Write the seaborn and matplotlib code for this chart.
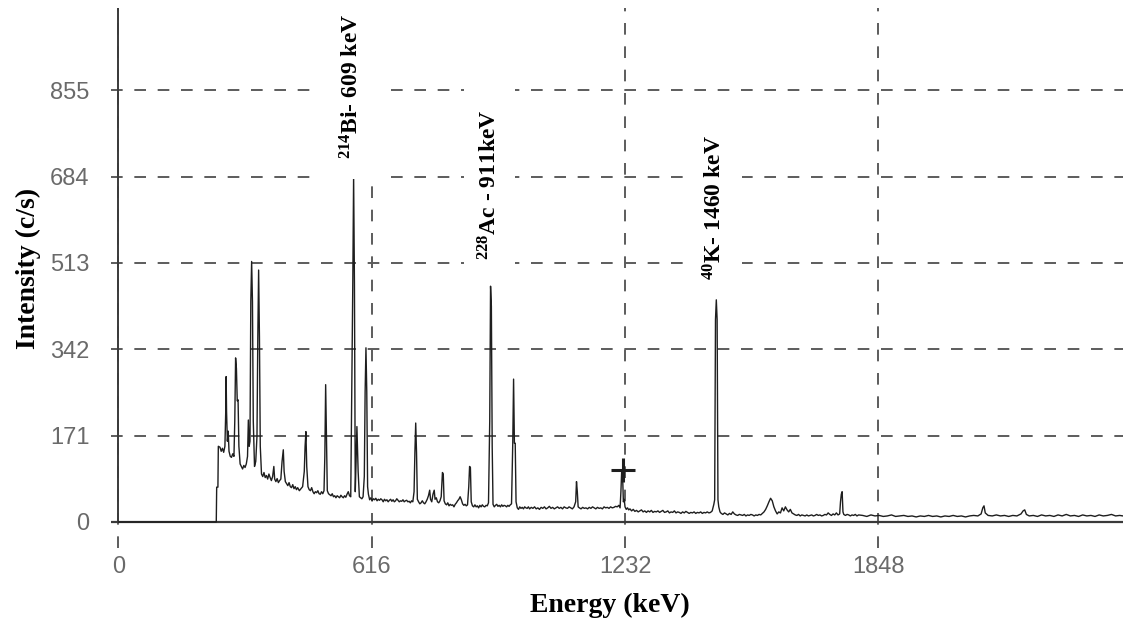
import matplotlib
matplotlib.use("Agg")
import matplotlib.pyplot as plt
import seaborn as sns
import pandas as pd

# ---------------- data ----------------
x_ticks = [0, 616, 1232, 1848]
y_ticks = [0, 171, 342, 513, 684, 855]

# spectrum vertices (energy keV, intensity c/s)
spec_low = [
    (0, 0), (238, 0), (239, 69), (242, 69), (243, 150), (247, 148), (250, 140), (253, 146),
    (256, 138), (259, 150), (261, 219), (262, 288), (263, 219), (265, 160), (267, 180),
    (269, 140), (272, 130), (275, 128), (278, 135), (281, 130), (283, 200), (285, 325),
    (287, 304), (289, 240), (291, 242), (293, 150), (296, 115), (299, 110), (302, 105),
    (305, 112), (308, 108), (311, 115), (314, 130), (316, 202), (318, 150), (320, 160),
    (322, 437), (324, 516), (326, 437), (328, 200), (331, 110), (334, 120), (337, 170),
    (339, 365), (341, 499), (343, 365), (345, 150), (348, 95), (351, 90), (354, 98),
    (357, 88), (360, 92), (363, 85), (366, 95), (369, 88), (372, 82), (375, 90), (378, 110),
    (380, 85), (383, 80), (386, 86), (389, 78), (392, 82), (395, 85), (398, 120), (401, 143),
    (403, 100), (406, 80), (409, 76), (412, 72), (415, 78), (418, 70), (421, 68), (424, 74),
    (427, 66), (430, 70), (433, 64), (436, 68), (440, 62), (444, 66), (448, 70), (452, 100),
    (454, 150), (456, 179), (458, 110), (461, 70), (464, 64), (467, 62), (470, 68), (473, 60),
    (476, 56), (479, 60), (482, 58), (485, 62), (488, 56), (491, 55), (494, 60), (497, 56),
    (500, 62), (502, 130), (504, 272), (506, 170), (508, 62), (511, 56), (514, 54), (517, 52),
    (520, 56), (523, 50), (526, 52), (529, 48), (532, 52), (535, 50), (538, 48), (541, 53),
    (544, 50), (547, 48), (550, 52), (553, 49), (556, 55), (559, 60), (562, 52), (565, 50),
    (568, 300), (570, 474), (572, 685), (574, 474), (576, 60), (578, 120), (580, 189),
    (583, 100), (586, 50), (589, 48), (592, 46), (595, 50), (598, 90), (600, 258), (602, 345),
    (604, 258), (606, 70), (608, 55),
]
spec_mid = [
    (611, 44), (614, 48), (617, 42), (620, 46), (623, 44), (626, 47), (629, 42), (632, 45),
    (635, 43), (638, 46), (641, 44), (644, 40), (647, 45), (650, 42), (653, 44), (656, 40),
    (659, 43), (662, 45), (665, 41), (668, 44), (671, 40), (674, 42), (677, 46), (680, 43),
    (683, 40), (686, 42), (689, 41), (692, 44), (695, 40), (698, 42), (701, 43), (704, 40),
    (707, 41), (710, 38), (713, 42), (716, 40), (719, 60), (721, 137), (723, 196), (725, 137),
    (727, 45), (730, 40), (733, 36), (736, 38), (739, 42), (742, 38), (745, 36), (748, 40),
    (751, 45), (754, 52), (757, 63), (759, 45), (762, 40), (765, 55), (768, 63), (770, 45),
    (773, 48), (776, 40), (779, 38), (782, 42), (785, 50), (788, 98), (790, 95), (792, 42),
    (795, 36), (798, 34), (801, 38), (804, 32), (807, 35), (810, 33), (813, 34), (816, 30),
    (819, 35), (822, 38), (825, 42), (828, 45), (831, 50), (834, 44), (837, 36), (840, 33),
    (843, 35), (846, 32), (849, 34), (852, 70), (854, 110), (856, 108), (858, 40), (861, 32),
    (864, 30), (867, 34), (870, 30), (873, 32), (876, 28), (879, 33), (882, 30), (885, 34),
    (888, 31), (891, 30), (894, 33), (897, 32), (900, 38), (903, 200), (905, 467), (907, 427),
    (909, 150), (911, 35), (914, 30), (917, 33), (920, 35), (923, 31), (926, 33), (929, 30),
    (932, 34), (935, 31), (938, 33), (941, 32), (944, 30), (947, 33), (950, 31), (953, 34),
    (956, 36), (959, 156), (961, 283), (963, 156), (965, 156), (967, 40), (970, 28), (973, 25),
    (976, 30), (979, 27), (982, 29), (985, 26), (988, 30), (991, 28), (994, 27), (997, 30),
    (1000, 26), (1004, 29), (1008, 27), (1012, 30), (1016, 26), (1020, 28), (1024, 25),
    (1028, 29), (1032, 27), (1036, 30), (1040, 26), (1044, 28), (1048, 31), (1052, 27),
    (1056, 29), (1060, 26), (1064, 28), (1068, 30), (1072, 27), (1076, 29), (1080, 26),
    (1084, 30), (1088, 28), (1092, 27), (1096, 30), (1100, 28), (1104, 26), (1108, 30),
    (1112, 40), (1114, 80), (1116, 60), (1118, 30), (1121, 28), (1125, 26), (1129, 29),
    (1133, 27), (1137, 28), (1141, 26), (1145, 29), (1149, 27), (1153, 30), (1157, 28),
    (1161, 26), (1165, 29), (1169, 27), (1173, 28), (1177, 26), (1181, 30), (1185, 28),
    (1189, 29), (1193, 27), (1197, 30), (1201, 28), (1205, 29), (1209, 31), (1213, 30),
    (1217, 33), (1220, 28), (1222, 60), (1224, 103), (1226, 95), (1228, 40), (1230, 45),
    (1232, 30), (1235, 25), (1238, 28),
]
spec_high = [
    (1241, 24), (1244, 26), (1248, 22), (1252, 25), (1256, 21), (1260, 23), (1264, 20),
    (1268, 22), (1272, 24), (1276, 20), (1280, 22), (1284, 19), (1288, 22), (1292, 20),
    (1296, 23), (1300, 19), (1304, 21), (1308, 20), (1312, 22), (1316, 19), (1320, 21),
    (1324, 23), (1328, 19), (1332, 20), (1336, 22), (1340, 18), (1344, 20), (1348, 19),
    (1352, 22), (1356, 18), (1360, 20), (1364, 19), (1368, 17), (1372, 20), (1376, 18),
    (1380, 21), (1384, 19), (1388, 17), (1392, 19), (1396, 18), (1400, 20), (1404, 17),
    (1408, 19), (1412, 18), (1416, 20), (1420, 17), (1424, 19), (1428, 18), (1432, 20),
    (1436, 18), (1440, 19), (1444, 22), (1448, 35), (1450, 44), (1452, 401), (1454, 440),
    (1456, 401), (1458, 44), (1460, 30), (1463, 20), (1466, 17), (1470, 15), (1474, 18),
    (1478, 16), (1482, 14), (1486, 17), (1490, 15), (1494, 20), (1498, 16), (1502, 14),
    (1506, 13), (1510, 15), (1514, 14), (1518, 13), (1522, 15), (1526, 12), (1530, 14),
    (1534, 13), (1538, 15), (1542, 14), (1546, 12), (1550, 14), (1554, 13), (1558, 15),
    (1562, 14), (1566, 17), (1570, 20), (1574, 25), (1578, 32), (1582, 40), (1586, 47),
    (1590, 42), (1594, 30), (1598, 22), (1602, 16), (1606, 20), (1610, 18), (1614, 28),
    (1618, 22), (1622, 30), (1626, 24), (1630, 20), (1634, 25), (1638, 18), (1642, 16),
    (1646, 14), (1650, 13), (1654, 15), (1658, 12), (1662, 14), (1666, 13), (1670, 12),
    (1674, 14), (1678, 12), (1682, 13), (1686, 14), (1690, 12), (1694, 13), (1698, 15),
    (1702, 13), (1706, 14), (1710, 12), (1714, 13), (1718, 15), (1722, 14), (1726, 18),
    (1730, 15), (1734, 13), (1738, 16), (1742, 14), (1746, 18), (1750, 14), (1754, 16),
    (1756, 40), (1758, 55), (1760, 60), (1762, 20), (1764, 15), (1768, 13), (1772, 15),
    (1776, 14), (1780, 12), (1784, 14), (1788, 13), (1792, 15), (1796, 12), (1800, 14),
    (1810, 13), (1820, 11), (1830, 14), (1840, 12), (1850, 13), (1860, 11), (1870, 12),
    (1880, 14), (1890, 11), (1900, 12), (1910, 13), (1920, 11), (1930, 12), (1940, 10),
    (1950, 12), (1960, 11), (1970, 13), (1980, 11), (1990, 12), (2000, 10), (2010, 12),
    (2020, 11), (2030, 13), (2040, 11), (2050, 12), (2060, 10), (2070, 12), (2080, 13),
    (2090, 12), (2098, 16), (2102, 28), (2105, 32), (2108, 18), (2115, 13), (2125, 12),
    (2135, 14), (2145, 12), (2155, 13), (2165, 11), (2175, 13), (2185, 12), (2195, 16),
    (2200, 22), (2204, 24), (2208, 15), (2215, 12), (2225, 13), (2235, 11), (2245, 14),
    (2255, 12), (2265, 13), (2275, 11), (2285, 14), (2295, 12), (2305, 15), (2315, 12),
    (2325, 13), (2335, 11), (2345, 14), (2355, 12), (2365, 13), (2375, 11), (2385, 14),
    (2395, 12), (2405, 13), (2415, 15), (2425, 12), (2435, 13), (2443, 12),
]

# cursor mark on the spectrum
cursor_energy = [1226]
cursor_count = [103]

# peak labels: (text, energy of label, bottom of label in c/s)
peak_labels = [r"$^{214}$Bi- 609 keV", r"$^{228}$Ac - 911keV   ", r"$^{40}$K- 1460 keV"]
peak_label_x = [568, 903, 1450]
peak_label_y = [718, 519, 479]
peak_label_pad = [14, 10, 11]

# ---------------- styling ----------------
sns.set_theme(style="white")
plt.rcParams["font.family"] = ["Liberation Serif", "DejaVu Serif"]
plt.rcParams["mathtext.fontset"] = "custom"
plt.rcParams["mathtext.rm"] = "Liberation Serif:bold"
plt.rcParams["mathtext.bf"] = "Liberation Serif:bold"
plt.rcParams["mathtext.it"] = "Liberation Serif:bold"

W, H = 1123, 631
fig = plt.figure(figsize=(W / 100, H / 100), dpi=100)
fig.patch.set_facecolor("white")
ax = fig.add_axes([111 / W, (H - 548) / H, (W - 111) / W, 540 / H])
ax.set_facecolor("white")

df = pd.DataFrame(spec_low + spec_mid + spec_high, columns=["Energy", "Intensity"])
sns.lineplot(data=df, x="Energy", y="Intensity", estimator=None, sort=False,
             color="#1e1e1e", lw=1.0, ax=ax, zorder=3)

ax.plot(cursor_energy, cursor_count, marker="+", ms=17, mew=2.2, color="#1e1e1e",
        ls="none", zorder=4)

ax.set_xlim(-18, 2443)
ax.set_ylim(-51.5, 1018)
ax.set_xticks(x_ticks)
ax.set_xticklabels([str(t) for t in x_ticks])
ax.set_yticks(y_ticks)
ax.set_yticklabels([str(t) for t in y_ticks])
for s in ax.spines.values():
    s.set_visible(False)

ax.set_axisbelow(True)
ax.grid(True, color="#5c5c5c", lw=1.4, ls=(0, (6, 6)))

# axis lines
ax.axhline(0, color="#3a3a3a", lw=1.6, zorder=2)
ax.plot([0, 0], [0, 1018], color="#3a3a3a", lw=1.4, zorder=2)

ax.tick_params(axis="both", length=0)
ax.tick_params(axis="y", pad=15.5)
ax.tick_params(axis="x", pad=6)
for lab in ax.get_xticklabels() + ax.get_yticklabels():
    lab.set_family(["Liberation Sans", "DejaVu Sans"])
    lab.set_fontsize(17)
    lab.set_color("#6a6a6a")

ax.set_xlabel("")
ax.set_ylabel("")
fig.text(610 / W, 1 - 605 / H, "Energy (keV)", ha="center", va="center",
         fontsize=20, weight="bold", color="black")
fig.text(28 / W, 1 - 268 / H, "Intensity (c/s)", rotation=90, ha="center", va="center",
         fontsize=20, weight="bold", color="black")

for txt, xv, yv, pd_ in zip(peak_labels, peak_label_x, peak_label_y, peak_label_pad):
    ax.text(xv, yv, txt, rotation=90, ha="center", va="bottom", fontsize=17,
            weight="bold", color="black", zorder=6,
            bbox=dict(facecolor="white", edgecolor="none", pad=pd_))

fig.savefig("out.png", dpi=100, facecolor="white")
